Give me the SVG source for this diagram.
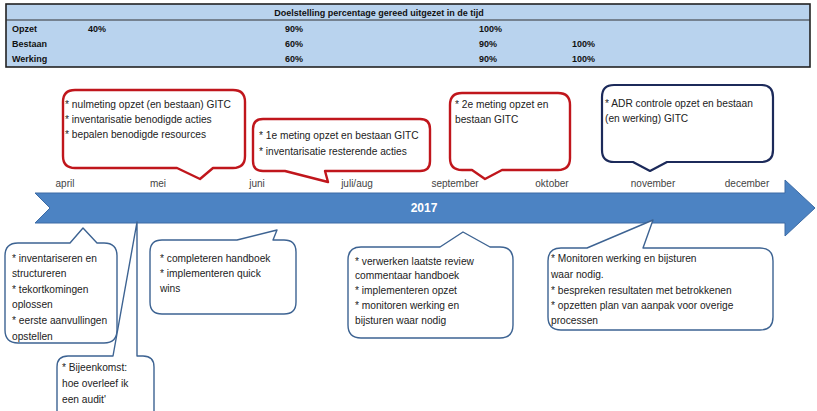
<svg xmlns="http://www.w3.org/2000/svg" width="817" height="411" viewBox="0 0 817 411">
<style>
.tbl{font-family:"Liberation Sans",Arial,sans-serif;font-size:9px;font-weight:bold;fill:#111}
.t{font-family:"Liberation Sans",Arial,sans-serif;font-size:10.2px;fill:#222}
.m{font-family:"Liberation Sans",Arial,sans-serif;font-size:10px;fill:#444;text-anchor:middle}
.red{fill:#fff;stroke:#c0161c;stroke-width:2.4;stroke-linejoin:round}
.navy{fill:#fff;stroke:#1c2a5a;stroke-width:2.2;stroke-linejoin:round}
.blue{fill:#fff;stroke:#3d6392;stroke-width:1.4;stroke-linejoin:round}
</style>
<rect width="817" height="411" fill="#fff"/>
<g id="table">
<rect x="6" y="4" width="804" height="63" fill="#b9d3ee" stroke="#222" stroke-width="1.6"/>
<line x1="6" y1="20" x2="810" y2="20" stroke="#333" stroke-width="1.2"/>
<text class="tbl" x="379" y="16" text-anchor="middle">Doelstelling percentage gereed uitgezet in de tijd</text>
<text class="tbl" x="12" y="32">Opzet</text>
<text class="tbl" x="88" y="32">40%</text>
<text class="tbl" x="285" y="32">90%</text>
<text class="tbl" x="479" y="32">100%</text>
<text class="tbl" x="12" y="47">Bestaan</text>
<text class="tbl" x="285" y="47">60%</text>
<text class="tbl" x="479" y="47">90%</text>
<text class="tbl" x="572" y="47">100%</text>
<text class="tbl" x="12" y="62">Werking</text>
<text class="tbl" x="285" y="62">60%</text>
<text class="tbl" x="479" y="62">90%</text>
<text class="tbl" x="572" y="62">100%</text>
</g>
<g id="timeline">
<path d="M35,193 H785 V180 L815,208 L785,236 V223 H35 L50,208 Z" fill="#4c83c3" stroke="#3c6ba5" stroke-width="1"/>
<text x="424" y="212" text-anchor="middle" font-family="Liberation Sans,Arial,sans-serif" font-size="12" font-weight="bold" fill="#fff">2017</text>
</g>
<g id="months">
<text class="m" x="65" y="187">april</text>
<text class="m" x="158" y="187">mei</text>
<text class="m" x="257" y="187">juni</text>
<text class="m" x="357" y="187">juli/aug</text>
<text class="m" x="455" y="187">september</text>
<text class="m" x="552" y="187">oktober</text>
<text class="m" x="653" y="187">november</text>
<text class="m" x="747" y="187">december</text>
</g>
<g id="c1">
<path class="red" d="M75,90 H233 Q245,90 245,102 V156 Q245,168 233,168 H213 L200,179 L177,168 H75 Q63,168 63,156 V102 Q63,90 75,90 Z"/>
<text class="t" x="65" y="108">* nulmeting opzet (en bestaan) GITC</text>
<text class="t" x="65" y="123">* inventarisatie benodigde acties</text>
<text class="t" x="65" y="138">* bepalen benodigde resources</text>
</g>
<g id="c2">
<path class="red" d="M263,119 H420 Q430,119 430,129 V161 Q430,171 420,171 H325 L328,182 L285,171 H263 Q253,171 253,161 V129 Q253,119 263,119 Z"/>
<text class="t" x="259" y="139">* 1e meting opzet en bestaan GITC</text>
<text class="t" x="259" y="155">* inventarisatie resterende acties</text>
</g>
<g id="c3">
<path class="red" d="M462,93 H558 Q570,93 570,105 V158 Q570,170 558,170 H502 L485,179 L472,170 H462 Q450,170 450,158 V105 Q450,93 462,93 Z"/>
<text class="t" x="455" y="108">* 2e meting opzet en</text>
<text class="t" x="455" y="123">bestaan GITC</text>
</g>
<g id="c4">
<path class="navy" d="M614,85 H761 Q773,85 773,97 V150 Q773,162 761,162 H667 L650,171 L633,162 H614 Q602,162 602,150 V97 Q602,85 614,85 Z"/>
<text class="t" x="605" y="107">* ADR controle opzet en bestaan</text>
<text class="t" x="605" y="122">(en werking) GITC</text>
</g>
<g id="cA">
<path class="blue" d="M18,243 H70 L83,228 L97,243 H104 Q117,243 117,256 V330 Q117,343 104,343 H18 Q5,343 5,330 V256 Q5,243 18,243 Z"/>
<text class="t" x="12" y="262">* inventariseren en</text>
<text class="t" x="12" y="277">structureren</text>
<text class="t" x="12" y="293">* tekortkomingen</text>
<text class="t" x="12" y="308">oplossen</text>
<text class="t" x="12" y="324">* eerste aanvullingen</text>
<text class="t" x="12" y="340">opstellen</text>
</g>
<g id="cB">
<path class="blue" d="M68,356 H113 L137,222 L137,356 H143 Q154,356 154,367 V415 H57 V367 Q57,356 68,356 Z"/>
<text class="t" x="62" y="371">* Bijeenkomst:</text>
<text class="t" x="62" y="387">hoe overleef ik</text>
<text class="t" x="62" y="403">een audit'</text>
</g>
<g id="cC">
<path class="blue" d="M162,240 H237 L277,230 L273,240 H284 Q296,240 296,252 V302 Q296,314 284,314 H162 Q150,314 150,302 V252 Q150,240 162,240 Z"/>
<text class="t" x="160" y="262">* completeren handboek</text>
<text class="t" x="160" y="277">* implementeren quick</text>
<text class="t" x="160" y="292">wins</text>
</g>
<g id="cD">
<path class="blue" d="M361,247 H440 L463,232 L490,247 H500 Q513,247 513,260 V325 Q513,338 500,338 H361 Q348,338 348,325 V260 Q348,247 361,247 Z"/>
<text class="t" x="355" y="265">* verwerken laatste review</text>
<text class="t" x="355" y="279">commentaar handboek</text>
<text class="t" x="355" y="294">* implementeren opzet</text>
<text class="t" x="355" y="309">* monitoren werking en</text>
<text class="t" x="355" y="324">bijsturen waar nodig</text>
</g>
<g id="cE">
<path class="blue" d="M561,248 H587 L653,220 L643,248 H760 Q773,248 773,261 V317 Q773,330 760,330 H561 Q548,330 548,317 V261 Q548,248 561,248 Z"/>
<text class="t" x="551" y="262">* Monitoren werking en bijsturen</text>
<text class="t" x="551" y="278">waar nodig.</text>
<text class="t" x="551" y="294">* bespreken resultaten met betrokkenen</text>
<text class="t" x="551" y="309">* opzetten plan van aanpak voor overige</text>
<text class="t" x="551" y="324">processen</text>
</g>
</svg>
